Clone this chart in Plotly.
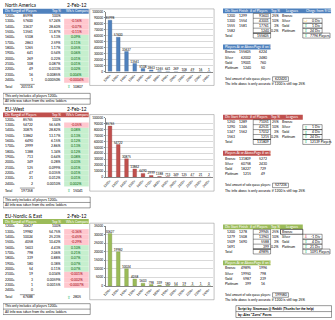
import math
import plotly.graph_objects as go

W, H = 335, 320

# ---------------- data ----------------
ranges = ["1200+", "1300+", "1400+", "1500+", "1600+", "1700+", "1800+",
          "1900+", "2000+", "2100+", "2200+", "2300+", "2400+"]

na_players = [85998, 57600, 33637, 13561, 5108, 2863, 1265, 641, 269, 108, 49, 16, 1]
na_compare = [None, -0.16, -0.07, -0.11, 0.09, 0.11, 0.05, 0.06, 0.01, 0.01, 0.02, 0.004, -0.0004]
na_compare_total = 10807

euw_players = [85765, 54722, 30875, 13862, 6490, 2999, 1388, 713, 349, 125, 47, 21, 2]
euw_compare = [None, -0.05, 0.08, 0.13, 0.12, 0.13, 0.12, 0.08, 0.03, 0.01, 0.01, 0.01, 0.002]
euw_compare_total = 15041

ne_players = [30627, 19982, 10024, 4058, 1603, 798, 339, 180, 54, 19, 3, 1, 0]
ne_compare = [None, -0.36, -0.45, -0.29, 0.10, 0.21, 0.07, 0.07, 0.07, -0.001, -0.002, -0.0007, None]
ne_compare_total = 2805

leagues = ["Bronze", "Silver", "Gold", "Platinum"]
league_top = ["25%", "10%", "3%", "0.2%"]

na_div_start = ["1200", "1300", "1555", "1582"]
na_div_finish = ["1299", "1554", "1581", ""]
na_league_players = [93603, 43001, 17761, 1240]
na_change = ["", "0 Div", "1 Div", "24 Div"]
na_change_total = "7796 Players"
na_at_above = [155605, 62002, 19001, 1240]
na_ladder_page = [6224, 2480, 760, 50]
na_solo_total = 622420

euw_div_start = ["1250", "1290", "1347", "1563"]
euw_div_finish = ["1289", "1346", "1562", ""]
euw_league_players = [71051, 42531, 17012, 1215]
euw_change = ["", "1 Div", "4 Div", "24 Div"]
euw_change_total = "12139 Players"
euw_at_above = [131809, 60758, 18227, 1215]
euw_ladder_page = [5272, 2430, 729, 49]
euw_solo_total = 527236

ne_div_start = ["1200", "1279", "1509", "1691"]
ne_div_finish = ["1278", "1508", "1690", ""]
ne_league_players = [29945, 13963, 5588, 399]
ne_change = ["", "-1 Div", "4 Div", "21 Div"]
ne_change_total = "1091 Players"
ne_at_above = [49895, 19950, 5987, 399]
ne_ladder_page = [1996, 798, 239, 16]
ne_solo_total = 199580

# ---------------- styles ----------------
FONT = "Lato"
FS = 3.4
BLUE, RED, GREEN = "#4F81BD", "#C0504D", "#9BBB59"
DARK = {BLUE: "#385D8A", RED: "#8C3836", GREEN: "#71893F"}
PINK_F, PINK_T = "#FFC7CE", "#9C0006"
GRN_F, GRN_T = "#C6EFCE", "#006100"

ann, shapes = [], []


def T(x, y, s, anchor="left", size=FS, color="#000", bold=False, family=FONT):
    if bold:
        s = f"<b>{s}</b>"
    ann.append(dict(x=x, y=y, xref="x", yref="y", text=s, showarrow=False,
                    xanchor=anchor, yanchor="middle", borderpad=0,
                    font=dict(size=size, color=color, family=family)))


def R(x0, y0, x1, y1, fill=None, line=None, lw=0.4):
    shapes.append(dict(type="rect", xref="x", yref="y", x0=x0, y0=y0, x1=x1, y1=y1,
                       fillcolor=fill or "rgba(0,0,0,0)", layer="below",
                       line=dict(color=line or "rgba(0,0,0,0)", width=lw if line else 0)))


def L(x0, y0, x1, y1, color="#000", lw=0.4):
    shapes.append(dict(type="line", xref="x", yref="y", x0=x0, y0=y0, x1=x1, y1=y1,
                       line=dict(color=color, width=lw), layer="below"))


def fmt_pct(p):
    if p <= 0:
        return ""
    if p >= 99.9999:
        return "100%"
    if p >= 1:
        return f"{p:.2f}%"
    d = -math.floor(math.log10(p)) + 1
    return f"{p:.{d}f}%"


def fmt_cmp(v):
    if abs(v) >= 0.01:
        return f"{v:.2f}%"
    d = -math.floor(math.log10(abs(v)))
    return f"{v:.{d}f}%"


def arrow(x, y, sign):
    if sign > 0:
        T(x, y, "⇧", "center", 4.4, "#00B050", family="DejaVu Sans")
    elif sign < 0:
        T(x, y, "⇩", "center", 4.4, "#C00000", family="DejaVu Sans")
    else:
        T(x, y, "⇨", "center", 4.4, "#FFC000", family="DejaVu Sans")


def left_table(b, color, title, date, players, compare, comp_total):
    T(1, b + 3.5, title, size=4.8)
    T(64, b + 3.5, date, size=4.8)
    R(0, b + 6.8, 86.5, b + 11.8, fill=color)
    T(1, b + 9.3, "Div Range", color="white")
    T(15, b + 9.3, "# of Players", color="white")
    T(59.5, b + 9.3, "Top %", "right", color="white")
    T(62.5, b + 9.3, "Wk/s Compare", color="white")
    total = sum(players)
    for i, (r, p, c) in enumerate(zip(ranges, players, compare)):
        y = b + 14.3 + i * 5.4
        T(1.5, y, r)
        T(31.5, y, str(p), "right")
        T(59.5, y, fmt_pct(sum(players[i:]) / total * 100), "right")
        if c is not None:
            neg = c < 0
            R(61.7, y - 2.7, 86.5, y + 2.7, fill=PINK_F if neg else GRN_F)
            T(74.1, y, fmt_cmp(c), "center", color=PINK_T if neg else GRN_T)
    yt = b + 86
    T(1.5, yt, "Total")
    L(17, yt - 2.6, 32, yt - 2.6)
    T(31.5, yt, str(total), "right")
    arrow(66.5, yt, 1)
    T(69.5, yt, str(comp_total))
    R(0, b + 92.5, 88, b + 103.5, line="#000")
    L(0, b + 98, 88, b + 98)
    T(1.5, b + 95.3, "This only includes all players 1200+")
    T(1.5, b + 100.7, "All info was taken from the online ladders")


def right_table(b, color, starts, finishes, lplayers, changes, ch_total,
                at_above, pages, solo, change_header):
    R(222, b + 6.5, 331 if change_header else 302.5, b + 11.5, fill=color)
    for x, s in [(222.5, "Div Start"), (237.5, "Finish"), (248.5, "# of Players"),
                 (269.5, "Top %"), (285, "Leagues")]:
        T(x, b + 9, s, color="white")
    if change_header:
        T(304.5, b + 9, "Chnge from 9/01", color="white")
    for i in range(4):
        y = b + 14 + i * 5
        T(230.5, y, starts[i], "center")
        T(242, y, finishes[i], "center")
        T(269, y, str(lplayers[i]), "right")
        T(279.5, y, league_top[i], "right")
        T(280.5, y, leagues[i])
        L(252.5, y + 2.5, 270, y + 2.5)
        if changes[i]:
            v = int(changes[i].split()[0])
            R(302.5, y - 2.5, 322, y + 2.5, line="#000")
            arrow(305.5, y, v)
            T(321, y, changes[i], "right")
    R(252.5, b + 11.5, 270, b + 31.5, line="#000")
    yt = b + 34
    T(222.5, yt, "Total")
    R(252.5, yt - 2.5, 270, yt + 2.5, line="#000")
    T(269, yt, str(sum(lplayers)), "right")
    R(302.5, yt - 2.5, 330, yt + 2.5, line="#000")
    arrow(305.5, yt, 1)
    T(308.5, yt, ch_total)

    R(222, b + 43, 270, b + 48, fill=color)
    T(222.5, b + 45.5, "Players At or Above", color="white")
    T(252.5, b + 45.5, "Page # on Ladder", color="white")
    for i in range(4):
        y = b + 51 + i * 5.3
        T(222.5, y, leagues[i])
        T(251.5, y, str(at_above[i]), "right")
        T(262, y, str(pages[i]), "center")
    T(222.5, b + 78, "Total amount of solo queue players:", size=2.95)
    R(272, b + 75.7, 288, b + 80.3, line="#000")
    T(273, b + 78, str(solo))
    T(222.5, b + 83.5, "The info above is only accurate if 1200 is still top 25%")


left_table(0, BLUE, "North America", "2-Feb-12", na_players, na_compare, na_compare_total)
left_table(105, RED, "EU-West", "2-Feb-12", euw_players, euw_compare, euw_compare_total)
left_table(213, GREEN, "EU-Nordic &amp; East", "2-Feb-12", ne_players, ne_compare, ne_compare_total)

right_table(0, BLUE, na_div_start, na_div_finish, na_league_players, na_change,
            na_change_total, na_at_above, na_ladder_page, na_solo_total, True)
right_table(107.7, RED, euw_div_start, euw_div_finish, euw_league_players, euw_change,
            euw_change_total, euw_at_above, euw_ladder_page, euw_solo_total, False)
right_table(218.7, GREEN, ne_div_start, ne_div_finish, ne_league_players, ne_change,
            ne_change_total, ne_at_above, ne_ladder_page, ne_solo_total, False)
R(280, 218.7 + 11.5, 302.5, 218.7 + 16.5, line="#000", lw=0.6)

# credit box
R(235, 307.5, 331.5, 319.5, line="#000")
L(235, 313.5, 331.5, 313.5)
T(236, 310.5, "Script by: Sinomous @ Reddit (Thanks for the help)", bold=True)
T(236, 316.5, 'by: Alex "Zarro" Povns', bold=True)

fig = go.Figure()
# canvas trace (invisible) for the table layer
fig.add_trace(go.Scatter(x=[0], y=[0], mode="markers", marker=dict(opacity=0),
                         hoverinfo="skip", showlegend=False, xaxis="x", yaxis="y"))

charts = [(na_players, BLUE, [0, 100000], 10000, 0),
          (euw_players, RED, [0, 100000], 10000, 107),
          (ne_players, GREEN, [0, 35000], 5000, 217)]

layout_axes = {}
for k, (vals, col, yr, dt, cb) in enumerate(charts):
    n = k + 2
    R(87.5, cb + 7, 213, cb + 84.5, fill="white", line="#868686", lw=0.5)
    fig.add_trace(go.Bar(
        x=ranges, y=vals, xaxis=f"x{n}", yaxis=f"y{n}",
        marker=dict(color=col, line=dict(color=DARK[col], width=0.3)),
        text=[str(v) for v in vals], textposition="outside", constraintext="none",
        textfont=dict(size=3.1, color="#000", family=FONT), cliponaxis=False,
        showlegend=False, hoverinfo="skip"))
    layout_axes[f"xaxis{n}"] = dict(
        domain=[103.8 / W, 212 / W], anchor=f"y{n}", tickangle=-45,
        tickfont=dict(size=3.1, family=FONT, color="#000"), showline=True,
        linecolor="#868686", linewidth=0.5, ticks="", showgrid=False)
    layout_axes[f"yaxis{n}"] = dict(
        domain=[1 - (cb + 70.5) / H, 1 - (cb + 10) / H], anchor=f"x{n}", range=yr,
        dtick=dt, tickformat="d", showgrid=True, gridcolor="#D9D9D9", gridwidth=0.5,
        tickfont=dict(size=3.1, family=FONT, color="#000"), showline=True,
        linecolor="#868686", linewidth=0.5, ticks="outside", ticklen=1.5,
        tickwidth=0.5, tickcolor="#868686", zeroline=False)

fig.update_layout(
    width=W, height=H, autosize=False,
    margin=dict(l=0, r=0, t=0, b=0, pad=0),
    paper_bgcolor="white", plot_bgcolor="rgba(0,0,0,0)",
    bargap=0.55, showlegend=False,
    xaxis=dict(domain=[0, 1], range=[0, W], visible=False, fixedrange=True),
    yaxis=dict(domain=[0, 1], range=[H, 0], visible=False, fixedrange=True),
    annotations=ann, shapes=shapes,
    **layout_axes,
)

fig.write_html("out.html")
